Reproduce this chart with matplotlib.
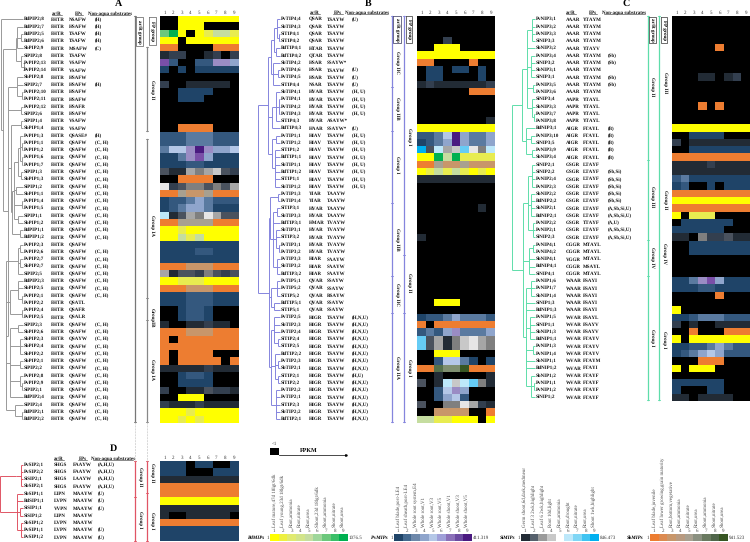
import matplotlib
matplotlib.use('Agg')
import numpy as np
import matplotlib.pyplot as plt
from matplotlib.colors import to_rgb

plt.rcParams['font.family'] = ['Liberation Serif', 'DejaVu Serif']
plt.rcParams['text.hinting'] = 'no_hinting'
plt.rcParams['text.hinting_factor'] = 1

W, H = 750, 542
ROW = 7.27

# colour codes used in the heat maps
palette = {
    'k': '#000000', 'y': '#FFFF00', 'l': '#E8EC50', 'g': '#C5DDA0', 'm': '#6CC87C', 'G': '#00B050',
    'o': '#ED7D31', 't': '#C8966A', 'a': '#A8A090',
    'b': '#1F4468', 'c': '#34587E', 'd': '#5A7AA0', 'e': '#8FA5CC', 'f': '#B4C7E7',
    'p': '#9A8CC4', 'u': '#7A4FA8', 'v': '#4A1A80',
    '1': '#222B35', '2': '#333F4F', '3': '#4A525E', '4': '#7F7F7F', '5': '#A6A6A6', '6': '#C8C8C8', '7': '#E7E6E6',
    's': '#00B0F0', 'S': '#66CCF5', 'w': '#BDE8FA',
    'D': '#375623', 'E': '#54704A', 'F': '#7F8F70',
}

# ---- panel A ----
a_names = ['BdPIP2;8', 'BdPIP2;7', 'BdPIP2;5', 'BdPIP2;6', 'SbPIP2;9', 'SiPIP2;8', 'PvPIP2;13', 'PvPIP2;14',
           'SbPIP2;8', 'SiPIP2;7', 'PvPIP2;10', 'PvPIP2;11', 'PvPIP2;12', 'SiPIP2;6', 'SiPIP1;4', 'SbPIP1;4',
           'PvPIP1;3', 'PvPIP1;1', 'PvPIP1;2', 'PvPIP1;6', 'PvPIP1;7', 'SiPIP1;3', 'SbPIP1;3', 'SiPIP1;2',
           'SbPIP1;1', 'PvPIP1;4', 'PvPIP1;5', 'SiPIP1;1', 'SbPIP1;2', 'BdPIP1;1', 'BdPIP1;2', 'PvPIP2;3',
           'PvPIP2;6', 'PvPIP2;7', 'SbPIP2;7', 'SiPIP2;5', 'BdPIP2;3', 'SbPIP2;5', 'PvPIP2;1', 'PvPIP2;2',
           'PvPIP2;4', 'PvPIP2;5', 'SiPIP2;3', 'SbPIP2;6', 'SbPIP2;3', 'SbPIP2;4', 'SbPIP2;2', 'SbPIP2;1',
           'SiPIP2;2', 'PvPIP2;8', 'PvPIP2;9', 'SiPIP2;1', 'BdPIP2;4', 'SiPIP2;4', 'BdPIP2;1', 'BdPIP2;2']
a_arr = ['FHTR'] * 56
a_fp = ['NSAFW', 'HSAFW', 'TSAFW', 'TSAFW', 'MSAFW', 'TSAFW', 'VSAFW', 'VSAFW', 'HSAFW', 'HSAFW', 'HSAFW', 'HSAFW',
        'HSAFR', 'HSAFW', 'VSAFW', 'VSAFW', 'QSASE#', 'QSAFW', 'QSAFW', 'QSAFW', 'QSAFW', 'QSAFW', 'QSAFW', 'QSAFW',
        'QSAFW', 'QSAFW', 'QSAFW', 'QSAFW', 'QSAFW', 'QSAFW', 'QSAFW', 'QSAFW', 'QSAFW', 'QSAFW', 'QSAFW', 'QSAFW',
        'QSAFW', 'QSAFW', 'QSAFW', 'QSATL', 'QSAFR', 'QSALR', 'QSAFW', 'QSAFW', 'QSAYW', 'QSAFW', 'QSAFW', 'QSAFW',
        'QSAFW', 'QSAFW', 'QSAFW', 'QSAFW', 'QSAFW', 'QSAFW', 'QSAFW', 'QSAFW']
a_sub = ['(H)', '(H)', '(H)', '(H)', '(C)', '', '', '', '', '(H)', '', '', '', '', '', '', '(H)'] + ['(C, H)'] * 14 + \
        [''] + ['(C, H)'] * 7 + ['', '', ''] + ['(C, H)'] * 14
a_heat = ['kkyyyyyyy', 'kkyyykkkk', 'mGykylggl', 'yykyyyyyy', 'ookkkkooo', '122kk12k2', 'uckkccppe', 'bkbkbbbbb',
          'kkkkkkkkk', '2kk11111k', 'kkbbbbkkk', 'kkbbbkkkk', 'kkkkkkkkk', 'kkkkkkkkk', 'kkkkkkkkk', 'kkooookkk',
          'cccdddccc', 'cccdddccc', 'dffpvpeef', 'bbdpuebbb', 'bbbccbbbb', '311545632', 'kkookkk'[:2] + 'oooo' + 'kkk',
          '723443435', 'ooattaooo', 'bccdedccc', 'bcdeedbbb', 'w13547533', 'ooaaaaooo', 'yylyyyyyy', 'yyglgyyyy',
          'bbbbbbbbb', 'bbbbccbbb', 'bbbbbbbbb', 'oootttooo', '513324323', 'yylllyyyy', 'oootttooo', 'bbbcccbbb',
          'bbbcccbbb', 'kkbccbkkk', 'kkbccbkkk', '1kk11211k', 'oootttooo', 'okooooooo', 'ooooooooo',
          'okoooookk'[:6] + 'kkk', 'okoooooko', '111112111', 'kkbccbkkk', 'kkbbbbkkk', '2kk113221',
          'kkyyykkkk', '211121111', 'yyylyyyyy', 'yylylyyyy']

# ---- panel B ----
b_names = ['PvTIP4;4', 'SbTIP4;3', 'SiTIP4;1', 'SiTIP4;2', 'BdTIP4;1', 'BdTIP4;2', 'SbTIP4;2', 'PvTIP4;6', 'PvTIP4;5',
           'SiTIP4;4', 'SbTIP4;1', 'PvTIP4;1', 'PvTIP4;2', 'PvTIP4;3', 'SiTIP4;3', 'BdTIP4;3', 'PvTIP1;1', 'PvTIP1;2',
           'SiTIP1;2', 'BdTIP1;1', 'SbTIP1;1', 'BdTIP1;2', 'SiTIP1;1', 'SbTIP1;2', 'PvTIP1;3', 'PvTIP1;4', 'SiTIP3;1',
           'SbTIP3;3', 'BdTIP3;1', 'SbTIP3;1', 'SiTIP3;2', 'PvTIP3;1', 'PvTIP3;2', 'PvTIP3;3', 'SbTIP3;2', 'BdTIP3;2',
           'PvTIP5;1', 'PvTIP5;2', 'SiTIP5;2', 'BdTIP5;1', 'SiTIP5;1', 'PvTIP2;5', 'SbTIP2;3', 'PvTIP2;4', 'SiTIP2;4',
           'SiTIP2;5', 'BdTIP2;2', 'PvTIP2;3', 'SbTIP2;1', 'SiTIP2;1', 'SiTIP2;2', 'PvTIP2;2', 'PvTIP2;1', 'SiTIP2;3',
           'SbTIP2;2', 'BdTIP2;1']
b_arr = ['QSAR'] * 4 + ['HTAR', 'QTAR', 'HSAR', 'HSAR', 'HSAR', 'NSAR'] + ['HVAR'] * 5 + ['HAAR'] + ['HIAV'] * 8 + \
        ['YIAR', 'YIAR', 'HVAR', 'HVAR', 'HMAR', 'HVAR', 'HVAR', 'HVAR', 'HVAR', 'HIAR', 'HIAR', 'HIAR'] + \
        ['QVAR'] * 5 + ['HIGR'] * 15
b_fp = ['TSAYW'] * 6 + ['SSAYW*', 'TSAYW', 'TSAYW', 'TSAYW', 'TSAYW', 'TSAYW', 'TSAYW', 'TSAYW', 'ASAYW*', 'SSAYW*'] + \
       ['TSAYW'] * 8 + ['TAAYW'] * 4 + ['TVAYW'] * 5 + ['SAAYW'] * 3 + ['SSAYW', 'SSAYW', 'RSAYW', 'SSAYW', 'SSAYW'] + \
       ['TSAYW'] * 15
b_sub = ['(U)', '', '', '', '', '', '', '(U)', '(U)', '(U)', '(H, U)', '(H, U)', '(H, U)', '(H, U)', '', '(U)'] + \
        ['(H, U)'] * 8 + [''] * 17 + ['(H,N,U)'] * 8 + ['(H,U)'] + ['(H,N,U)'] * 6
b_heat = ['kkkkkkkkk', 'kkkkkkkkk', 'kkkkkkkkk', 'kkk2kkkkk', 'kkyyykkkk', 'yyyyyyyyy', 'ookkkkokk', 'kbbkbbkbk',
          'kbbkkkkbk', '121111112', 'kkkkkkooo', 'kkkkkkkkk', 'kkkkkkkkk', 'kkkkkkkkk', 'kkkkkkkk1', 'yyyyyyyyy',
          'ccdfvedde', 'bcdevedde', 's3w56S74w', 'yyGgGllll', 'ooattattt', 'ylglglyly', '111111111',
          'kkkkkkkkk', 'kkkkkkkkk', 'kkkkkkkkk', 'kkkkkkk1k', 'kkkkkkkkk', 'kkkkkkkkk', 'kkkkkkkkk',
          '1kkkkkkkk', 'kkkkkkkkk', 'kkkkkkkkk', 'kkkkkkkkk', 'kkkkkkkkk', 'kkkkkkkkk', 'kkkkkkkkk', 'kkkkkkkkk',
          'kkkkkkkkk', 'kkyyykkkk', 'kkkkkkkkk', 'bccdedddc', 'okooooooo', 'cdcepddde', 'S35146754', 'S35146754',
          'kkyyykkkk', 'kkcffdbkb', 'ooEFFDooo', 'kk1kkkkk1', '3k1w6wS41', 'kkcfpekkk', 'kkcefckkk', '3kk447521',
          'kkttttkko', 'ggllyyyky']

# ---- panel C ----
c_names = ['PvNIP3;1', 'PvNIP3;2', 'PvNIP3;3', 'SiNIP3;3', 'SbNIP3;2', 'PvNIP3;4', 'SiNIP3;2', 'SbNIP3;1', 'SiNIP3;1',
           'PvNIP3;5', 'PvNIP3;6', 'SiNIP3;4', 'SbNIP3;3', 'PvNIP3;7', 'PvNIP3;8', 'BdNIP3;1', 'PvNIP3;10', 'SiNIP3;5',
           'PvNIP3;9', 'SbNIP3;4', 'SiNIP2;1', 'SiNIP2;2', 'PvNIP2;4', 'PvNIP2;3', 'SbNIP2;2', 'BdNIP2;2', 'SbNIP2;1',
           'BdNIP2;1', 'PvNIP2;2', 'PvNIP2;1', 'SiNIP2;3', 'PvNIP4;1', 'PvNIP4;2', 'SbNIP4;1', 'BdNIP4;1', 'SiNIP4;1',
           'PvNIP1;6', 'PvNIP1;7', 'SbNIP1;4', 'SiNIP1;3', 'BdNIP1;3', 'PvNIP1;5', 'SiNIP1;1', 'SbNIP1;3', 'BdNIP1;1',
           'PvNIP1;3', 'PvNIP1;4', 'SbNIP1;1', 'BdNIP1;2', 'SbNIP1;2', 'PvNIP1;1', 'PvNIP1;2', 'SiNIP1;2']
c_arr = ['AAAR'] * 11 + ['AAPR'] * 4 + ['AIGR'] * 5 + ['GSGR'] * 11 + ['CGGR', 'CGGR', 'VGGR', 'CGGR', 'CGGR'] + \
        ['WAAR'] * 5 + ['WVAR'] * 12
c_fp = ['YTAYM'] * 4 + ['YTAYV'] + ['YTAYM'] * 6 + ['YTAYL'] * 4 + ['FTAYL'] * 5 + ['LTAYF'] * 8 + ['TTAYF'] + \
       ['LTAYF'] * 2 + ['MTAYL', 'MTAYL', 'MTAYL', 'MSAYL', 'MTAYL'] + ['FSAYI'] * 5 + \
       ['FSAYL', 'FSAYV', 'FSAYV', 'FTAYV', 'FTAYV', 'FTAYV', 'FTAYM', 'FTAYI', 'FTAYF', 'FTAYF', 'FTAYF', 'FTAYF']
c_sub = ['', '', '', '', '', '(Sb)', '(Sb)', '', '(Sb)', '(Sb)', '', '', '', '', '', '(B)', '(B)', '(B)', '(B)', '(B)',
         '', '(Sb,Si)', '(Sb,Si)', '(Sb,Si)', '(Sb,Si)', '(Sb,Si)', '(A,Sb,Si,U)', '(A,Sb,Si,U)', '(A,U)',
         '(A,Sb,Si,U)', '(A,Sb,Si,U)'] + [''] * 22
c_heat = ['kkkkkkkkk', 'kkkkkkkkk', 'kkkkkkkkk', 'kkkkkkkkk', 'kkkkkokkk', 'kkkkkkkkk', 'kkkkkkkkk', 'kkkkkkkkk',
          'kkk11k12k', 'kkkkkkkkk', 'kkkkkkkkk', 'kkkkkkkkk', 'kkkokokkk', 'kkkkkkkkk', 'kkkkkkkkk', 'yyyyyyyyy',
          'kkbbbbkkk', '2k1111111', 'kkbbbbbbb', 'ooooooooo', '111121111', '111111111', 'cdbbbbbbb', 'bckkbkbbb',
          'ooooooooo', 'yyyyyyyyy', 'ooooooooo', 'yklllkkkk', 'kbbbbbbkk', 'bbbbbbkkk', '11k422311', 'kkbbbbbbb',
          'kkbbbbbbb', 'kkkkkkkkk', 'kkkkkkkkk', 'kkkkkkkkk', 'bbdpuebbb', 'bbbccbbbb', 'kkkkkokkk', 'kkkkkkkkk',
          'ykkkkkkkk', 'bbcdddccc', '2k1kk1111', 'kkokkkooo', 'ykyyyyyyy', 'bbccdedcc', 'bcdefeccc', 'kkkoookkk',
          'ykyyykkkk', 'kkkkkkkkk', 'bbbbbbkkk', 'bkkkbbkkk', '11k1111kk']

# ---- panel D ----
d_names = ['PvSIP2;1', 'PvSIP2;2', 'SiSIP2;1', 'SbSIP2;1', 'SbSIP1;1', 'BdSIP1;1', 'SiSIP1;1', 'SiSIP1;2', 'SbSIP1;2',
           'PvSIP1;1', 'PvSIP1;2']
d_arr = ['SHGS', 'SHGS', 'SHGS', 'SHGS', 'LIPN', 'LVPN', 'VVPN', 'LIPN', 'LVPN', 'LVPN', 'LVPN']
d_fp = ['FAAYW', 'FAAYW', 'LAAYW', 'FAAYW', 'MAAYW', 'MAAYW', 'MAAYW', 'MAAYW', 'MAAYW', 'MAAYW', 'MAAYW']
d_sub = ['(A,H,U)', '(A,H,U)', '(A,H,U)', '(A,H,U)', '(U)', '(U)', '(U)', '', '', '(U)', '(U)']
d_heat = ['bbbkbbkkb', 'bbbkkkbbb', '111111111', 'ooooooooo', 'ooooooooo', 'yyyyyyyyy', '111111111', '1kk11111k',
          'ooooooooo', 'bbbbbbbbb', 'bbbbbbbbb']

# trees: (x of the node, children), a child is a row number or another node
a_tree = (1, [0, (3, [(16, [(17, [1, (21, [2, 3]), 4]), (21, [5, (24, [6, 7])])]),
                      (8, [(17, [8, 9, (22, [10, 11])]), (21, [12, 13]),
                           (11, [(21, [14, 15]),
                                 (12, [(14, [(18, [(20, [16, (22, [17, 18]), (22, [19, 20])]), (21, [21, 22])]),
                                             (16, [23, 24]), (22, [25, 26]), (18, [27, 28])]), (20, [29, 30])])]),
                           (6, [(18, [(20, [31, 32]), (20, [33, 34]), 35]),
                                (10, [(18, [36, 37, (22, [38, 39])]), (22, [40, 41])]),
                                (10, [(18, [42, 43]), (20, [44, 45, 46]), (20, [47, 48]), (20, [49, (22, [50, 51])]), 52]),
                                (15, [53, (22, [54, 55])])])])])])
b_tree = (258, [(268, [(271, [(274, [(277, [0, 1, (279, [2, 3])]), (276, [4, 5])]), (273, [6, (278, [7, 8]), 9])]),
                       (272, [(276, [10, (279, [11, 12, 13]), 14]), 15]),
                       (272, [(276, [16, 17]), (275, [18, 19, 20, 21, 22, 23])])]),
                (269, [(270, [(278, [24, 25]), (273, [(277, [26, 27]), 28, (276, [29, 30, (279, [31, 32])]),
                                                      (277, [33, 34, 35])])]),
                       (271, [(277, [36, 37, 38]), (274, [39, 40])]),
                       (271, [(274, [41, 42, 43, (278, [44, 45])]), (275, [46, (278, [47, 48]), (278, [49, 50])]),
                              (276, [51, 52, 53, 54, 55])])])])
c_tree = (512, [(522, [(527, [(532, [0, 1, 2, 3]), 4, (531, [5, 6, 7, 8]), (533, [9, 10]), (532, [11, 12, (534, [13, 14])])]),
                       (526, [15, (531, [16, 17]), (532, [18, 19])])]),
                (523, [(528, [(532, [20, 21, 22, 23]), (531, [24, 25, 26, 27]), (533, [28, 29, 30])]),
                       (529, [(533, [31, 32]), 33, 34, 35]),
                       (526, [(531, [36, 37, 38]), 39, 40, (530, [41, 42, 43, 44]), (533, [45, 46]), 47, 48,
                              (531, [49, (534, [50, 51]), 52])])])])
d_tree = (0, [(16, [(21, [0, 1, 2, 3])]), (17, [4, 5, (20, [6, 7]), (21, [8, 9, 10])])])

# legend bars under panels
leg_names = ['BdMIPs', 'PvMIPs', 'SiMIPs', 'SbMIPs']
leg_max = ['1076.5', '411.319', '846.473', '941.523']
leg_colors = [['#FFFF00', '#EEF040', '#E0EA70', '#D2E48A', '#C5DDA0', '#9ED69A', '#6CC87C', '#3ABF68', '#00B050'],
              ['#1F4468', '#44698F', '#6D88AA', '#8FA5CC', '#B4C7E7', '#9F9FD8', '#8A70B8', '#6B4AA0', '#4A1A80'],
              ['#222B35', '#56606C', '#9A9A9A', '#C8C8C8', '#FFFFFF', '#BDE8FA', '#7FD6F5', '#40C4F2', '#00B0F0'],
              ['#ED7D31', '#DC8A50', '#C8966A', '#B89A80', '#A8A090', '#8A9080', '#6A7A60', '#50664A', '#375623']]
leg_labels = [['Leaf mature,47d 18lgt/6dk', 'Leaf young,23d 18lgt/6dk', 'Root,ammonia', 'Root,nitrate', 'Root,urea',
               'Shoot,23d 18lgt/6dk', 'Shoot,ammonia', 'Shoot,nitrate', 'Shoot,urea'],
              ['Leaf blade,post-LE4', 'Leaf sheath,post-LE4', 'Whole root system,E4', 'Whole root,V1', 'Whole root,V3',
               'Whole root,V5', 'Whole shoot,V1', 'Whole shoot,V3', 'Whole shoot,V5'],
              ['Germ shoot,6d,dark,medmeur', 'Leaf 3 2wk,highlight', 'Leaf 6 2wk,highlight', 'Root 10d,light',
               'Root,ammonia', 'Root,drought', 'Root,nitrate', 'Root,urea', 'Shoot 1wk,highlight'],
              ['Leaf blade,juvenile', 'Leaf lower growing,grain maturity', 'Root,bottom,vegetative', 'Root,ammonia',
               'Root,nitrate', 'Root,urea', 'Shoot,ammonia', 'Shoot,nitrate', 'Shoot,urea']]
leg_x = [270, 394, 521, 650]

fig = plt.figure(figsize=(W / 100, H / 100), dpi=100)
ov = fig.add_axes([0, 0, 1, 1], zorder=2)
ov.set_xlim(0, W)
ov.set_ylim(H, 0)
ov.axis('off')
ov.patch.set_alpha(0)


def px_axes(x0, y0, x1, y1):
    ax = fig.add_axes([x0 / W, 1 - y1 / H, (x1 - x0) / W, (y1 - y0) / H], zorder=1)
    ax.axis('off')
    return ax


def draw_heat(rows, x0, y0, x1):
    img = np.array([[to_rgb(palette[ch]) for ch in r] for r in rows])
    ax = px_axes(x0, y0, x1, y0 + ROW * len(rows))
    ax.imshow(img, aspect='auto', interpolation='nearest')
    step = (x1 - x0) / 9
    for i in range(9):
        ov.text(x0 + step * (i + .5), y0 - 3.2, str(i + 1), fontsize=3.8, ha='center', va='center', color='#333333')


def draw_tree(node, y0, leaf_x, color):
    # returns the y of this node, draws the verticals and horizontals below it
    x, kids = node
    ys = []
    for k in kids:
        if isinstance(k, tuple):
            yk = draw_tree(k, y0, leaf_x, color)
            ov.plot([x, k[0]], [yk, yk], color=color, lw=.7, solid_capstyle='butt')
        else:
            yk = y0 + ROW * (k + .5)
            ov.plot([x, leaf_x], [yk, yk], color=color, lw=.7, solid_capstyle='butt')
        ys.append(yk)
    ov.plot([x, x], [min(ys), max(ys)], color=color, lw=.7, solid_capstyle='butt')
    return (min(ys) + max(ys)) / 2


def draw_labels(names, arr, fp, subs, y0, xs):
    for i in range(len(names)):
        y = y0 + ROW * (i + .5)
        for x, s in zip(xs, [names[i], arr[i], fp[i], subs[i]]):
            ov.text(x, y, s, fontsize=3.9, fontweight='bold', ha='left', va='center', color='#111111')


def header(xs, y, line_x):
    for x, s in zip(xs, ['ar/R', 'FPs', 'Non-aqua substrates']):
        ov.text(x, y, s, fontsize=3.6, fontweight='bold', ha='center', va='center', color='#111111')
    for a, b in line_x:
        ov.plot([a, b], [y + 1.8, y + 1.8], color='#333333', lw=.4)


def bracket(x, y0, y1, color, ticks=()):
    ov.plot([x, x], [y0, y1], color=color, lw=.9)
    for t in (y0, y1) + tuple(ticks):
        ov.plot([x - 1, x + 1], [t, t], color=color, lw=.6)


def group_label(x, y, s):
    ov.text(x, y, s, fontsize=3.9, fontweight='bold', rotation=270, ha='center', va='center', color='#111111')


def box_label(x0, x1, y0, y1, s, color):
    ov.plot([x0, x1, x1, x0, x0], [y0, y0, y1, y1, y0], color=color, lw=.6)
    ov.text((x0 + x1) / 2, (y0 + y1) / 2, s, fontsize=3.9, fontweight='bold', rotation=270, ha='center', va='center')


# panel A
draw_heat(a_heat, 160, 15.7, 238)
draw_tree(a_tree, 15.7, 23, '#999999')
draw_labels(a_names, a_arr, a_fp, a_sub, 15.7, (24, 51, 69, 95))
header((57, 79, 110), 13.5, [(52, 62), (75, 83), (90, 130)])
ov.text(119, 4, 'A', fontsize=7.5, fontweight='bold', ha='center', va='center')
bracket(135, 15.7, 422, '#777777')
bracket(146.5, 47, 131, '#888888')
bracket(146.5, 139, 422, '#888888', (298, 320))
box_label(136, 143, 17, 46, 'ar/R group', '#777777')
box_label(149, 156, 17, 45, 'FP group', '#777777')
group_label(152, 90, 'Group II')
group_label(152, 225, 'Group IA')
group_label(152, 318, 'GroupIB')
group_label(152, 369, 'Group IA')

# panel B
BLUE = '#8585DD'
draw_heat(b_heat, 417, 15.7, 495)
draw_tree(b_tree, 15.7, 280, BLUE)
draw_labels(b_names, b_arr, b_fp, b_sub, 15.7, (281, 309, 327, 352))
header((315, 338, 367), 12.5, [(310, 320), (333, 343), (347, 388)])
ov.text(368, 4, 'B', fontsize=7.5, fontweight='bold', ha='center', va='center')
bracket(392, 15.7, 422, BLUE, (87, 131, 203, 276, 313))
bracket(404, 15.7, 422, BLUE, (255, 313))
box_label(393, 401, 16, 43, 'ar/R group', '#555577')
box_label(406, 412, 16, 43, 'FP group', '#555555')
for x, y, s in [(397, 62, 'Group IIC'), (397, 108, 'Group IIB'), (397, 165, 'Group I'), (397, 239, 'Group IIB'),
                (397, 294, 'Group IIC'), (397, 367, 'Group IIA'), (409, 137, 'Group I'), (409, 283, 'Group II'),
                (409, 368, 'Group I')]:
    group_label(x, y, s)

# panel C
MINT = '#5FDDAA'
draw_heat(c_heat, 672, 15.7, 750)
draw_tree(c_tree, 15.7, 535, MINT)
draw_labels(c_names, c_arr, c_fp, c_sub, 15.7, (536, 566, 583, 608))
header((571, 593, 624), 12.5, [(566, 576), (589, 597), (604, 645)])
ov.text(626, 4, 'C', fontsize=7.5, fontweight='bold', ha='center', va='center')
bracket(647.5, 15.7, 400, MINT, (160, 240, 276))
bracket(659, 15.7, 400, MINT)
box_label(649, 656, 17, 43, 'ar/R group', '#555555')
box_label(661, 667, 17, 43, 'FP group', '#555555')
for x, y, s in [(652, 87, 'Group II'), (652, 197, 'Group III'), (652, 257, 'Group IV'), (652, 338, 'Group I'),
                (665, 83, 'Group III'), (665, 200, 'Group II'), (664, 253, 'Group IV'), (664, 340, 'Group I')]:
    group_label(x, y, s)

# panel D
RED = '#E05565'
draw_heat(d_heat, 160, 461, 238)
draw_tree(d_tree, 461, 23, RED)
draw_labels(d_names, d_arr, d_fp, d_sub, 461, (24, 54, 73, 98))
header((59, 83, 113), 458.5, [(54, 64), (78, 87), (93, 133)])
ov.text(113, 449, 'D', fontsize=7.5, fontweight='bold', ha='center', va='center')
bracket(135, 461, 541, RED, (497,))
bracket(146.5, 461, 541, RED, (493,))
ov.plot([135, 135], [422, 461], color='#BBBBBB', lw=.4, ls='--')
ov.plot([146.5, 146.5], [422, 461], color='#BBBBBB', lw=.4, ls='--')
for x, y, s in [(140, 477, 'Group II'), (140, 520, 'Group I'), (152, 473, 'Group II'), (152, 521, 'Group I')]:
    group_label(x, y, s)

# FPKM key
key = px_axes(270, 448, 279, 455)
key.imshow([[0]], cmap='gray', aspect='auto')
ov.text(274.5, 444, '<1', fontsize=3.8, ha='center', va='center', color='#333333')
ov.text(309, 451, 'FPKM', fontsize=4.6, fontweight='bold', ha='center', va='center')
ov.plot([279, 346], [455, 455], color='black', lw=.5)
ov.plot([346], [455], marker='>', ms=1.2, color='black')

# legend bars
for n in range(4):
    x0 = leg_x[n]
    bar = px_axes(x0, 534, x0 + 77.5, 541)
    bar.imshow([[to_rgb(c) for c in leg_colors[n]]], aspect='auto')
    step = 77.5 / 9
    for i in range(9):
        cx = x0 + step * (i + .5)
        ov.text(cx, 531, str(i + 1), fontsize=3.6, ha='center', va='center', color='#444444')
        ov.text(cx, 527, leg_labels[n][i], fontsize=3.7, rotation=90, ha='center', va='bottom', color='#444444')
    ov.text(x0 - 6, 537.5, leg_names[n], fontsize=3.8, fontstyle='italic', fontweight='bold', ha='right', va='center')
    ov.text(x0 - 2, 537.5, '1', fontsize=3.8, ha='center', va='center', color='#333333')
    ov.text(x0 + 79, 537.5, leg_max[n], fontsize=3.8, ha='left', va='center', color='#333333')

fig.savefig('out.png', dpi=100, facecolor='white')
